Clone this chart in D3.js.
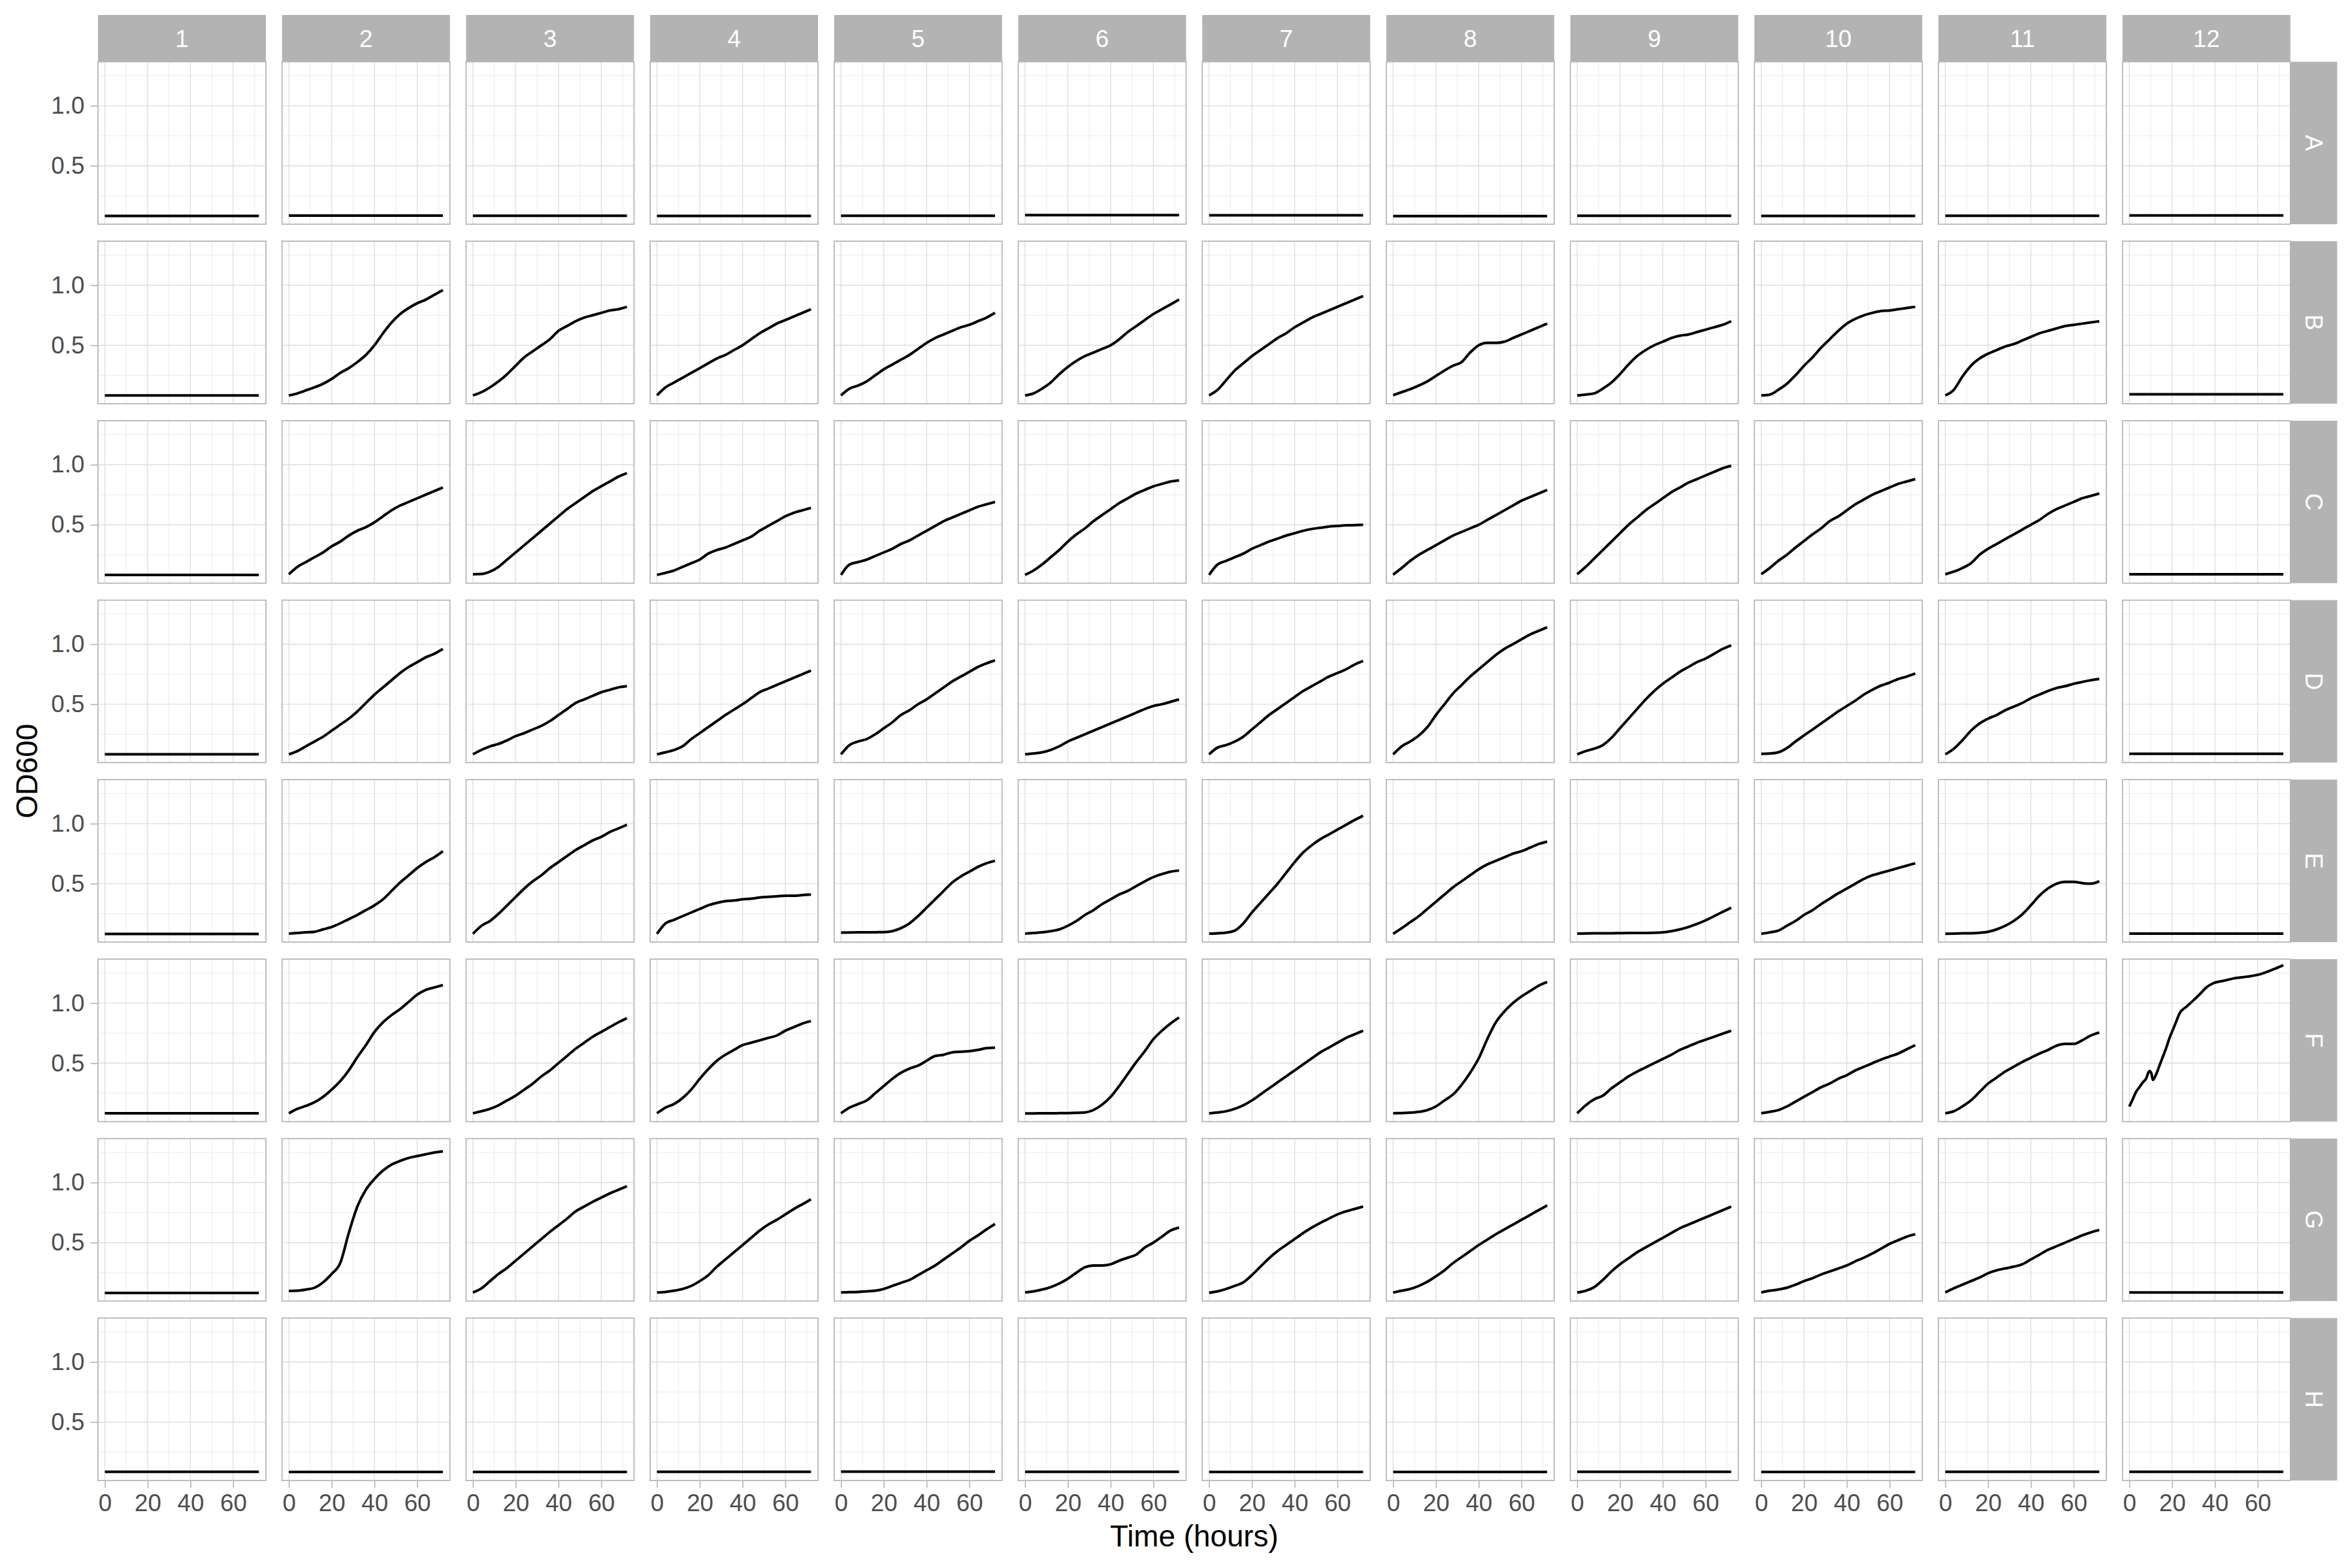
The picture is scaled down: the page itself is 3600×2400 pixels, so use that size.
<!DOCTYPE html>
<html>
<head>
<meta charset="utf-8">
<script src="https://cdn.jsdelivr.net/npm/d3@7"></script>
<style>
  html, body { margin: 0; padding: 0; background: #ffffff; }
  svg { display: block; }
</style>
</head>
<body>
<svg id="chart" width="3600" height="2400"></svg>
<script>
// ---------------- data ----------------
const rowLabels = ["A", "B", "C", "D", "E", "F", "G", "H"];
const colLabels = ["1", "2", "3", "4", "5", "6", "7", "8", "9", "10", "11", "12"];
const hours = [0, 4, 8, 12, 16, 20, 24, 28, 32, 36, 40, 44, 48, 52, 56, 60, 64, 68, 72];

const xTicks = [0, 20, 40, 60];
const xMinorTicks = [10, 30, 50, 70];
const yTicks = [0.5, 1.0];
const yMinorTicks = [0.25, 0.75, 1.25];
const xDomain = [-3.2, 75.3];
const yDomain = [0.014, 1.366];

const odA = [
  [0.083,0.083,0.083,0.083,0.083,0.083,0.083,0.083,0.083,0.083,0.083,0.083,0.083,0.083,0.083,0.083,0.083,0.083,0.083],
  [0.086,0.086,0.086,0.086,0.086,0.086,0.086,0.086,0.086,0.086,0.086,0.086,0.086,0.086,0.086,0.086,0.086,0.086,0.086],
  [0.084,0.084,0.084,0.084,0.084,0.084,0.084,0.084,0.084,0.084,0.084,0.084,0.084,0.084,0.084,0.084,0.084,0.084,0.084],
  [0.083,0.083,0.083,0.083,0.083,0.083,0.083,0.083,0.083,0.083,0.083,0.083,0.083,0.083,0.083,0.083,0.083,0.083,0.083],
  [0.085,0.085,0.085,0.085,0.085,0.085,0.085,0.085,0.085,0.085,0.085,0.085,0.085,0.085,0.085,0.085,0.085,0.085,0.085],
  [0.090,0.090,0.090,0.090,0.090,0.090,0.090,0.090,0.090,0.090,0.090,0.090,0.090,0.090,0.090,0.090,0.090,0.090,0.090],
  [0.088,0.088,0.088,0.088,0.088,0.088,0.088,0.088,0.088,0.088,0.088,0.088,0.088,0.088,0.088,0.088,0.088,0.088,0.088],
  [0.082,0.082,0.082,0.082,0.082,0.082,0.082,0.082,0.082,0.082,0.082,0.082,0.082,0.082,0.082,0.082,0.082,0.082,0.082],
  [0.084,0.084,0.084,0.084,0.084,0.084,0.084,0.084,0.084,0.084,0.084,0.084,0.084,0.084,0.084,0.084,0.084,0.084,0.084],
  [0.083,0.083,0.083,0.083,0.083,0.083,0.083,0.083,0.083,0.083,0.083,0.083,0.083,0.083,0.083,0.083,0.083,0.083,0.083],
  [0.085,0.085,0.085,0.085,0.085,0.085,0.085,0.085,0.085,0.085,0.085,0.085,0.085,0.085,0.085,0.085,0.085,0.085,0.085],
  [0.087,0.087,0.087,0.087,0.087,0.087,0.087,0.087,0.087,0.087,0.087,0.087,0.087,0.087,0.087,0.087,0.087,0.087,0.087]
];

const odB = [
  [0.083,0.083,0.083,0.083,0.083,0.083,0.083,0.083,0.083,0.083,0.083,0.083,0.083,0.083,0.083,0.083,0.083,0.083,0.083],
  [0.083,0.10,0.125,0.15,0.18,0.22,0.27,0.31,0.36,0.42,0.50,0.60,0.69,0.76,0.81,0.85,0.88,0.92,0.96],
  [0.083,0.11,0.15,0.20,0.26,0.33,0.40,0.45,0.50,0.55,0.62,0.66,0.70,0.73,0.75,0.77,0.79,0.80,0.82],
  [0.083,0.15,0.19,0.23,0.27,0.31,0.35,0.39,0.42,0.46,0.50,0.55,0.60,0.64,0.68,0.71,0.74,0.77,0.80],
  [0.083,0.14,0.165,0.20,0.25,0.30,0.34,0.38,0.42,0.47,0.52,0.56,0.59,0.62,0.65,0.67,0.70,0.73,0.77],
  [0.083,0.10,0.14,0.19,0.26,0.32,0.37,0.41,0.44,0.47,0.50,0.55,0.61,0.66,0.71,0.76,0.80,0.84,0.88],
  [0.083,0.13,0.21,0.29,0.35,0.41,0.46,0.51,0.56,0.60,0.65,0.69,0.73,0.76,0.79,0.82,0.85,0.88,0.91],
  [0.085,0.11,0.135,0.165,0.20,0.245,0.29,0.33,0.36,0.44,0.50,0.52,0.52,0.53,0.56,0.59,0.62,0.65,0.68],
  [0.083,0.09,0.10,0.14,0.19,0.26,0.34,0.41,0.46,0.50,0.53,0.56,0.58,0.59,0.61,0.63,0.65,0.67,0.70],
  [0.083,0.09,0.13,0.18,0.25,0.33,0.40,0.48,0.55,0.62,0.68,0.72,0.75,0.77,0.785,0.79,0.80,0.81,0.82],
  [0.083,0.13,0.24,0.33,0.39,0.43,0.46,0.49,0.51,0.54,0.57,0.60,0.62,0.64,0.66,0.67,0.68,0.69,0.70],
  [0.092,0.092,0.092,0.092,0.092,0.092,0.092,0.092,0.092,0.092,0.092,0.092,0.092,0.092,0.092,0.092,0.092,0.092,0.092]
];

const odC = [
  [0.082,0.082,0.082,0.082,0.082,0.082,0.082,0.082,0.082,0.082,0.082,0.082,0.082,0.082,0.082,0.082,0.082,0.082,0.082],
  [0.088,0.15,0.19,0.23,0.27,0.32,0.36,0.41,0.45,0.48,0.52,0.57,0.62,0.66,0.69,0.72,0.75,0.78,0.81],
  [0.088,0.09,0.11,0.15,0.21,0.27,0.33,0.39,0.45,0.51,0.57,0.63,0.68,0.73,0.78,0.82,0.86,0.90,0.93],
  [0.083,0.10,0.12,0.15,0.18,0.21,0.26,0.29,0.31,0.34,0.37,0.40,0.45,0.49,0.53,0.57,0.60,0.62,0.64],
  [0.083,0.17,0.19,0.21,0.24,0.27,0.30,0.34,0.37,0.41,0.45,0.49,0.53,0.56,0.59,0.62,0.65,0.67,0.69],
  [0.083,0.12,0.17,0.23,0.29,0.36,0.42,0.47,0.53,0.58,0.63,0.68,0.72,0.76,0.79,0.82,0.84,0.86,0.87],
  [0.083,0.17,0.20,0.23,0.26,0.30,0.33,0.36,0.385,0.41,0.43,0.45,0.465,0.475,0.485,0.49,0.495,0.497,0.50],
  [0.085,0.14,0.20,0.25,0.29,0.33,0.37,0.41,0.44,0.47,0.50,0.54,0.58,0.62,0.66,0.70,0.73,0.76,0.79],
  [0.088,0.15,0.22,0.29,0.36,0.43,0.50,0.56,0.62,0.67,0.72,0.77,0.81,0.85,0.88,0.91,0.94,0.97,0.99],
  [0.088,0.14,0.20,0.25,0.31,0.365,0.42,0.47,0.53,0.57,0.62,0.67,0.71,0.75,0.78,0.81,0.84,0.86,0.88],
  [0.088,0.11,0.14,0.18,0.25,0.30,0.34,0.38,0.42,0.46,0.50,0.54,0.59,0.63,0.66,0.69,0.72,0.74,0.76],
  [0.088,0.088,0.088,0.088,0.088,0.088,0.088,0.088,0.088,0.088,0.088,0.088,0.088,0.088,0.088,0.088,0.088,0.088,0.088]
];

const odD = [
  [0.083,0.083,0.083,0.083,0.083,0.083,0.083,0.083,0.083,0.083,0.083,0.083,0.083,0.083,0.083,0.083,0.083,0.083,0.083],
  [0.083,0.11,0.15,0.19,0.23,0.28,0.33,0.38,0.44,0.51,0.58,0.64,0.70,0.76,0.81,0.85,0.89,0.92,0.96],
  [0.083,0.12,0.15,0.17,0.20,0.235,0.26,0.29,0.32,0.36,0.41,0.46,0.51,0.54,0.57,0.60,0.62,0.64,0.65],
  [0.083,0.10,0.12,0.15,0.21,0.26,0.31,0.36,0.41,0.455,0.50,0.55,0.60,0.63,0.66,0.69,0.72,0.75,0.78],
  [0.083,0.16,0.19,0.21,0.25,0.30,0.35,0.41,0.45,0.50,0.54,0.59,0.64,0.69,0.73,0.77,0.81,0.84,0.865],
  [0.083,0.09,0.10,0.12,0.15,0.19,0.22,0.25,0.28,0.31,0.34,0.37,0.40,0.43,0.46,0.485,0.50,0.52,0.54],
  [0.083,0.14,0.16,0.19,0.23,0.29,0.35,0.41,0.46,0.51,0.56,0.61,0.65,0.69,0.73,0.76,0.79,0.83,0.86],
  [0.083,0.15,0.19,0.24,0.31,0.41,0.50,0.59,0.66,0.73,0.79,0.85,0.91,0.96,1.00,1.04,1.08,1.11,1.14],
  [0.083,0.11,0.13,0.16,0.22,0.30,0.38,0.46,0.54,0.61,0.67,0.72,0.77,0.81,0.85,0.88,0.92,0.96,0.99],
  [0.087,0.09,0.10,0.135,0.19,0.24,0.29,0.34,0.39,0.44,0.485,0.53,0.58,0.62,0.655,0.68,0.71,0.73,0.755],
  [0.083,0.13,0.20,0.28,0.34,0.38,0.41,0.45,0.48,0.51,0.55,0.58,0.61,0.635,0.65,0.67,0.685,0.70,0.71],
  [0.087,0.087,0.087,0.087,0.087,0.087,0.087,0.087,0.087,0.087,0.087,0.087,0.087,0.087,0.087,0.087,0.087,0.087,0.087]
];

const odE = [
  [0.082,0.082,0.082,0.082,0.082,0.082,0.082,0.082,0.082,0.082,0.082,0.082,0.082,0.082,0.082,0.082,0.082,0.082,0.082],
  [0.085,0.09,0.095,0.10,0.12,0.14,0.17,0.205,0.24,0.28,0.32,0.37,0.44,0.51,0.57,0.63,0.68,0.72,0.77],
  [0.083,0.15,0.19,0.25,0.32,0.39,0.46,0.52,0.57,0.63,0.68,0.73,0.78,0.82,0.86,0.89,0.93,0.96,0.99],
  [0.083,0.17,0.20,0.23,0.26,0.29,0.32,0.34,0.355,0.36,0.37,0.375,0.385,0.39,0.395,0.40,0.40,0.405,0.41],
  [0.093,0.094,0.095,0.095,0.096,0.097,0.105,0.13,0.17,0.23,0.30,0.37,0.44,0.51,0.56,0.60,0.64,0.67,0.69],
  [0.085,0.09,0.095,0.105,0.12,0.15,0.19,0.24,0.28,0.33,0.37,0.41,0.44,0.48,0.52,0.555,0.58,0.60,0.61],
  [0.085,0.088,0.093,0.11,0.17,0.26,0.34,0.42,0.50,0.59,0.68,0.76,0.82,0.87,0.91,0.95,0.99,1.03,1.065],
  [0.083,0.13,0.18,0.23,0.29,0.35,0.41,0.47,0.52,0.57,0.62,0.66,0.69,0.72,0.75,0.77,0.80,0.83,0.85],
  [0.085,0.086,0.087,0.088,0.088,0.089,0.09,0.09,0.09,0.092,0.095,0.105,0.12,0.14,0.165,0.195,0.23,0.265,0.30],
  [0.083,0.095,0.11,0.15,0.19,0.24,0.28,0.33,0.375,0.42,0.46,0.50,0.54,0.57,0.59,0.61,0.63,0.65,0.67],
  [0.083,0.085,0.087,0.088,0.092,0.10,0.12,0.15,0.19,0.245,0.32,0.40,0.46,0.50,0.515,0.515,0.505,0.50,0.52],
  [0.085,0.085,0.085,0.085,0.085,0.085,0.085,0.085,0.085,0.085,0.085,0.085,0.085,0.085,0.085,0.085,0.085,0.085,0.085]
];

const odF = [
  [0.083,0.083,0.083,0.083,0.083,0.083,0.083,0.083,0.083,0.083,0.083,0.083,0.083,0.083,0.083,0.083,0.083,0.083,0.083],
  [0.083,0.12,0.145,0.175,0.22,0.28,0.35,0.44,0.55,0.65,0.76,0.84,0.90,0.95,1.01,1.07,1.11,1.13,1.15],
  [0.083,0.10,0.12,0.15,0.19,0.23,0.28,0.33,0.39,0.44,0.50,0.56,0.62,0.67,0.72,0.76,0.80,0.84,0.875],
  [0.083,0.13,0.16,0.21,0.28,0.37,0.45,0.52,0.57,0.61,0.65,0.67,0.69,0.71,0.73,0.77,0.80,0.83,0.85],
  [0.083,0.13,0.16,0.19,0.25,0.31,0.37,0.42,0.455,0.48,0.52,0.56,0.57,0.59,0.595,0.60,0.61,0.625,0.63],
  [0.082,0.082,0.083,0.083,0.084,0.085,0.087,0.09,0.11,0.155,0.22,0.31,0.41,0.51,0.60,0.70,0.77,0.83,0.88],
  [0.083,0.09,0.10,0.12,0.15,0.19,0.24,0.29,0.34,0.39,0.44,0.49,0.54,0.59,0.63,0.67,0.71,0.74,0.77],
  [0.083,0.085,0.088,0.095,0.11,0.14,0.19,0.24,0.32,0.42,0.54,0.70,0.84,0.93,1.00,1.055,1.10,1.145,1.175],
  [0.083,0.15,0.20,0.23,0.29,0.34,0.39,0.43,0.465,0.50,0.535,0.57,0.61,0.64,0.67,0.695,0.72,0.745,0.77],
  [0.083,0.095,0.11,0.14,0.18,0.22,0.26,0.30,0.33,0.37,0.40,0.44,0.47,0.50,0.53,0.555,0.58,0.615,0.65],
  [0.083,0.10,0.14,0.19,0.26,0.33,0.38,0.43,0.47,0.51,0.545,0.58,0.61,0.645,0.66,0.66,0.69,0.73,0.755],
  null
];
// well F12 was read on its own, finer time grid (noisy start)
const hoursF12 = [0,1.6,3.1,4.7,6.3,7.8,9.4,10.4,11,12.6,14.1,15.7,17.3,18.8,20.4,22,23.5,26.7,29.8,33,36,39.2,43.9,48.7,55,61.2,65.9,72];
const odF12 = [0.14,0.20,0.26,0.30,0.34,0.37,0.435,0.41,0.36,0.41,0.48,0.555,0.63,0.71,0.78,0.85,0.915,0.97,1.02,1.075,1.13,1.165,1.185,1.205,1.22,1.24,1.27,1.315];

const odG = [
  [0.082,0.082,0.082,0.082,0.082,0.082,0.082,0.082,0.082,0.082,0.082,0.082,0.082,0.082,0.082,0.082,0.082,0.082,0.082],
  [0.098,0.10,0.11,0.125,0.17,0.24,0.33,0.58,0.80,0.94,1.03,1.10,1.15,1.18,1.205,1.22,1.235,1.25,1.26],
  [0.085,0.12,0.18,0.24,0.29,0.35,0.41,0.47,0.53,0.59,0.645,0.70,0.76,0.80,0.84,0.875,0.91,0.94,0.97],
  [0.085,0.09,0.10,0.115,0.14,0.18,0.23,0.30,0.36,0.42,0.48,0.54,0.60,0.65,0.69,0.735,0.78,0.82,0.86],
  [0.085,0.088,0.09,0.095,0.10,0.115,0.14,0.165,0.19,0.23,0.27,0.31,0.36,0.41,0.46,0.515,0.56,0.61,0.655],
  [0.085,0.095,0.11,0.13,0.16,0.20,0.25,0.295,0.31,0.31,0.32,0.35,0.375,0.40,0.46,0.50,0.55,0.60,0.625],
  [0.083,0.095,0.115,0.14,0.17,0.23,0.30,0.37,0.43,0.48,0.53,0.58,0.625,0.665,0.70,0.735,0.76,0.78,0.80],
  [0.085,0.10,0.115,0.14,0.175,0.22,0.27,0.33,0.38,0.43,0.48,0.525,0.57,0.61,0.65,0.69,0.73,0.77,0.81],
  [0.085,0.10,0.13,0.19,0.26,0.32,0.37,0.42,0.46,0.50,0.54,0.58,0.62,0.65,0.68,0.71,0.74,0.77,0.80],
  [0.085,0.10,0.11,0.125,0.15,0.18,0.205,0.235,0.26,0.285,0.31,0.345,0.375,0.41,0.45,0.49,0.52,0.55,0.57],
  [0.085,0.12,0.15,0.18,0.21,0.245,0.27,0.285,0.30,0.32,0.36,0.40,0.44,0.47,0.50,0.53,0.56,0.585,0.605],
  [0.085,0.085,0.085,0.085,0.085,0.085,0.085,0.085,0.085,0.085,0.085,0.085,0.085,0.085,0.085,0.085,0.085,0.085,0.085]
];

const odH = [
  [0.087,0.087,0.087,0.087,0.087,0.087,0.087,0.087,0.087,0.087,0.087,0.087,0.087,0.087,0.087,0.087,0.087,0.087,0.087],
  [0.085,0.085,0.085,0.085,0.085,0.085,0.085,0.085,0.085,0.085,0.085,0.085,0.085,0.085,0.085,0.085,0.085,0.085,0.085],
  [0.085,0.085,0.085,0.085,0.085,0.085,0.085,0.085,0.085,0.085,0.085,0.085,0.085,0.085,0.085,0.085,0.085,0.085,0.085],
  [0.086,0.086,0.086,0.086,0.086,0.086,0.086,0.086,0.086,0.086,0.086,0.086,0.086,0.086,0.086,0.086,0.086,0.086,0.086],
  [0.088,0.088,0.088,0.088,0.088,0.088,0.088,0.088,0.088,0.088,0.088,0.088,0.088,0.088,0.088,0.088,0.088,0.088,0.088],
  [0.086,0.086,0.086,0.086,0.086,0.086,0.086,0.086,0.086,0.086,0.086,0.086,0.086,0.086,0.086,0.086,0.086,0.086,0.086],
  [0.085,0.085,0.085,0.085,0.085,0.085,0.085,0.085,0.085,0.085,0.085,0.085,0.085,0.085,0.085,0.085,0.085,0.085,0.085],
  [0.085,0.085,0.085,0.085,0.085,0.085,0.085,0.085,0.085,0.085,0.085,0.085,0.085,0.085,0.085,0.085,0.085,0.085,0.085],
  [0.087,0.087,0.087,0.087,0.087,0.087,0.087,0.087,0.087,0.087,0.087,0.087,0.087,0.087,0.087,0.087,0.087,0.087,0.087],
  [0.085,0.085,0.085,0.085,0.085,0.085,0.085,0.085,0.085,0.085,0.085,0.085,0.085,0.085,0.085,0.085,0.085,0.085,0.085],
  [0.086,0.086,0.086,0.086,0.086,0.086,0.086,0.086,0.086,0.086,0.086,0.086,0.086,0.086,0.086,0.086,0.086,0.086,0.086],
  [0.086,0.086,0.086,0.086,0.086,0.086,0.086,0.086,0.086,0.086,0.086,0.086,0.086,0.086,0.086,0.086,0.086,0.086,0.086]
];

// ---------------- layout ----------------
const FONT = "'Liberation Sans', Arial, Helvetica, sans-serif";
const panelW = 257, panelH = 248.7;
const colStep = 281.7, rowStep = 274.7;
const left0 = 150, top0 = 94.5;
const stripSize = 71.6;
const tickLen = 11.5, tickPad = 9.2;
const axisFont = 36.7, titleFont = 45.8;

const svg = d3.select("#chart");
svg.append("rect").attr("width", 3600).attr("height", 2400).attr("fill", "#ffffff");

const x = d3.scaleLinear().domain(xDomain).range([0, panelW]);
const y = d3.scaleLinear().domain(yDomain).range([panelH, 0]);

const rows = [odA, odB, odC, odD, odE, odF, odG, odH];
const line = d3.line()
  .x(d => x(d[0]))
  .y(d => y(d[1]))
  .curve(d3.curveMonotoneX);

const defs = svg.append("defs");
defs.append("clipPath").attr("id", "panelClip")
  .append("rect").attr("x", 0).attr("y", 0).attr("width", panelW).attr("height", panelH);

const nCols = colLabels.length, nRows = rowLabels.length;
const panelsRight = left0 + (nCols - 1) * colStep + panelW;
const panelsBottom = top0 + (nRows - 1) * rowStep + panelH;

// column strips (top)
colLabels.forEach((lab, c) => {
  const gx = left0 + c * colStep;
  svg.append("rect")
    .attr("x", gx).attr("y", top0 - stripSize)
    .attr("width", panelW).attr("height", stripSize)
    .attr("fill", "#B3B3B3");
  svg.append("text")
    .attr("x", gx + panelW / 2).attr("y", top0 - stripSize / 2)
    .attr("dy", "0.35em")
    .attr("text-anchor", "middle")
    .attr("font-family", FONT).attr("font-size", axisFont)
    .attr("fill", "#ffffff")
    .text(lab);
});

// row strips (right)
rowLabels.forEach((lab, r) => {
  const gy = top0 + r * rowStep;
  svg.append("rect")
    .attr("x", panelsRight).attr("y", gy)
    .attr("width", stripSize).attr("height", panelH)
    .attr("fill", "#B3B3B3");
  svg.append("text")
    .attr("transform", `translate(${panelsRight + stripSize / 2},${gy + panelH / 2}) rotate(90)`)
    .attr("dy", "0.35em")
    .attr("text-anchor", "middle")
    .attr("font-family", FONT).attr("font-size", axisFont)
    .attr("fill", "#ffffff")
    .text(lab);
});

// panels
rows.forEach((rowData, r) => {
  rowData.forEach((vals, c) => {
    const g = svg.append("g")
      .attr("transform", `translate(${left0 + c * colStep},${top0 + r * rowStep})`);
    g.append("rect").attr("width", panelW).attr("height", panelH).attr("fill", "#ffffff");

    const grid = g.append("g").attr("clip-path", "url(#panelClip)");
    grid.selectAll("line.ymin").data(yMinorTicks).enter().append("line")
      .attr("x1", 0).attr("x2", panelW)
      .attr("y1", d => y(d)).attr("y2", d => y(d))
      .attr("stroke", "#EBEBEB").attr("stroke-width", 1.0);
    grid.selectAll("line.xmin").data(xMinorTicks).enter().append("line")
      .attr("y1", 0).attr("y2", panelH)
      .attr("x1", d => x(d)).attr("x2", d => x(d))
      .attr("stroke", "#EBEBEB").attr("stroke-width", 1.0);
    grid.selectAll("line.ymaj").data(yTicks).enter().append("line")
      .attr("x1", 0).attr("x2", panelW)
      .attr("y1", d => y(d)).attr("y2", d => y(d))
      .attr("stroke", "#DEDEDE").attr("stroke-width", 1.4);
    grid.selectAll("line.xmaj").data(xTicks).enter().append("line")
      .attr("y1", 0).attr("y2", panelH)
      .attr("x1", d => x(d)).attr("x2", d => x(d))
      .attr("stroke", "#DEDEDE").attr("stroke-width", 1.4);

    let pts;
    if (vals === null) {
      pts = hoursF12.map((h, i) => [h, odF12[i]]);
    } else {
      pts = hours.map((h, i) => [h, vals[i]]);
    }
    g.append("path")
      .attr("clip-path", "url(#panelClip)")
      .attr("d", line(pts))
      .attr("fill", "none")
      .attr("stroke", "#000000")
      .attr("stroke-width", 4)
      .attr("stroke-linejoin", "round");

    g.append("rect")
      .attr("width", panelW).attr("height", panelH)
      .attr("fill", "none").attr("stroke", "#B3B3B3").attr("stroke-width", 1.7);
  });
});

function styleAxis(sel) {
  sel.attr("font-family", FONT).attr("font-size", axisFont);
  sel.select(".domain").remove();
  sel.selectAll(".tick line").attr("stroke", "#B3B3B3").attr("stroke-width", 1.6);
  sel.selectAll(".tick text").attr("fill", "#4D4D4D");
}

// y axes (left column)
rowLabels.forEach((lab, r) => {
  const ax = svg.append("g")
    .attr("transform", `translate(${left0},${top0 + r * rowStep})`)
    .call(d3.axisLeft(y).tickValues(yTicks).tickSize(tickLen).tickPadding(tickPad)
      .tickFormat(d3.format(".1f")));
  styleAxis(ax);
});

// x axes (bottom row)
colLabels.forEach((lab, c) => {
  const ax = svg.append("g")
    .attr("transform", `translate(${left0 + c * colStep},${panelsBottom})`)
    .call(d3.axisBottom(x).tickValues(xTicks).tickSize(tickLen).tickPadding(tickPad)
      .tickFormat(d3.format("d")));
  styleAxis(ax);
});

// axis titles
svg.append("text")
  .attr("x", (left0 + panelsRight) / 2).attr("y", 2367)
  .attr("text-anchor", "middle")
  .attr("font-family", FONT).attr("font-size", titleFont)
  .attr("fill", "#000000")
  .text("Time (hours)");

svg.append("text")
  .attr("transform", `translate(57,${(top0 + panelsBottom) / 2}) rotate(-90)`)
  .attr("text-anchor", "middle")
  .attr("font-family", FONT).attr("font-size", titleFont)
  .attr("fill", "#000000")
  .text("OD600");
</script>
</body>
</html>
